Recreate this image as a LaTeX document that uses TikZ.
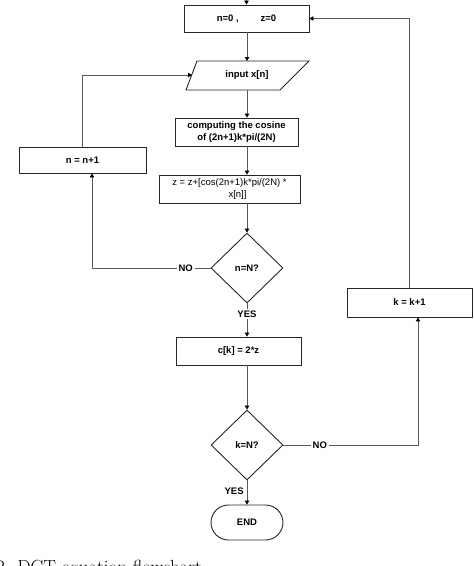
\documentclass[tikz,border=0pt]{standalone}
\usepackage{fontspec}
\setsansfont{Liberation Sans}
\usetikzlibrary{shapes.geometric,arrows.meta}
\begin{document}
\begin{tikzpicture}[x=1pt,y=-1pt,
  shp/.style={draw=black!85, line width=0.9pt},
  box/.style={shp, rectangle, inner sep=0pt, align=center,
    font=\sffamily\bfseries\fontsize{9.5}{12.5}\selectfont},
  dec/.style={shp, diamond, inner sep=0pt, minimum width=72pt, minimum height=70pt,
    font=\sffamily\bfseries\fontsize{9.5}{11}\selectfont},
  txt/.style={inner sep=0pt, font=\sffamily\bfseries\fontsize{9.5}{11}\selectfont},
  conn/.style={draw=black!65, line width=0.8pt},
  arr/.style={conn, -{Triangle[length=4pt,width=4.5pt,color=black]}},
  lab/.style={fill=white, inner sep=2pt, font=\sffamily\bfseries\fontsize{9.5}{11}\selectfont}
]
\useasboundingbox (0,0) rectangle (474,566);

% nodes
\node[box, minimum width=125pt, minimum height=27pt] (init) at (246.5,18.5) {n=0 ,\hspace{22pt}z=0};

\coordinate (pTL) at (197,61);
\coordinate (pTR) at (309,61);
\coordinate (pBR) at (280,90);
\coordinate (pBL) at (186,90);
\draw[shp] (pTL) -- (pTR) -- (pBR) -- (pBL) -- cycle;
\node[txt] (inp) at (247,75.5) {input x[n]};
\coordinate (inT) at (247,61);
\coordinate (inB) at (247,90);
\coordinate (inL) at (192,75);

\node[box, minimum width=123pt, minimum height=28pt] (cos) at (236.5,132)
  {computing the cosine\\of (2n+1)k*pi/(2N)};
\node[box, font=\sffamily\fontsize{9.5}{12.5}\selectfont, minimum width=141pt, minimum height=28pt] (zup) at (229.5,189)
  {z = z+[cos(2n+1)k*pi/(2N) *\\\hspace*{16pt}x[n]]};
\node[box, minimum width=127pt, minimum height=26pt] (inc) at (82.5,160) {n = n+1};
\node[dec] (d1) at (247,268) {n=N?};
\node[box, minimum width=125pt, minimum height=28pt] (ck) at (238.5,351) {c[k] = 2*z};
\node[dec] (d2) at (247,445) {k=N?};
\node[box, minimum width=125pt, minimum height=29pt] (kinc) at (409.5,302.5) {k = k+1};
\node[box, rounded corners=17.5pt, minimum width=72pt, minimum height=35pt] (end) at (247,522.5) {END};

% connectors
\coordinate (top) at (246.5,-10);
\draw[arr] (top) -- (init.north);
\draw[arr] (inT |- init.south) -- (inT);
\draw[arr] (inB) -- (inB |- cos.north);
\draw[arr] (inB |- cos.south) -- (inB |- zup.north);
\draw[arr] (inB |- zup.south) -- (d1.north);

\coordinate (noL) at (92,268);
\draw[arr] (d1.west) -- node[lab, pos=0.21] (no1) {NO} (noL) -- (noL |- inc.south);
\draw[arr] (inc.north) |- (inL);

\draw[arr] (d1.south) -- node[lab, pos=0.32] (yes1) {YES} (d1.south |- ck.north);
\draw[arr] (d1.south |- ck.south) -- (d2.north);

\coordinate (noR) at (418,445);
\draw[arr] (d2.east) -- node[lab, pos=0.27] (no2) {NO} (noR) -- (noR |- kinc.south);
\draw[arr] (kinc.north) |- (init.east);

\draw[arr] (d2.south) -- node[txt, left=3pt, pos=0.45] (yes2) {YES} (end.north);

% caption (cut off at the page edge, as in the reference)
\node[font=\fontsize{19}{22}\selectfont, anchor=base west, inner sep=0pt] (cap) at (-4,573)
  {2. DCT equation flowchart};
\end{tikzpicture}
\end{document}
